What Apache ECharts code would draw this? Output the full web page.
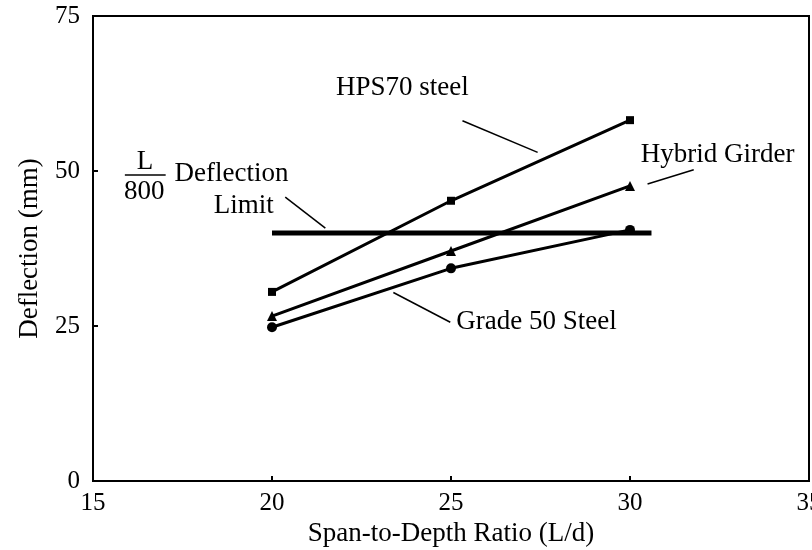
<!DOCTYPE html>
<html>
<head>
<meta charset="utf-8">
<script src="https://cdn.jsdelivr.net/npm/echarts@6/dist/echarts.min.js"></script>
<style>html,body{margin:0;padding:0;background:#fff}#c{width:812px;height:550px}</style>
</head>
<body>
<div id="c"></div>
<script>
const ratios = [20, 25, 30];
const hps70 = [30.5, 45.2, 58.2];
const hybrid = [26.6, 37.1, 47.6];
const grade50 = [24.8, 34.3, 40.5];
const limitValue = 40;
const limitRange = [20, 30.6];
const xTicks = [15, 20, 25, 30, 35];
const yTicks = [0, 25, 50, 75];

// annotation texts and anchors (data coordinates)
const noteTexts = ['HPS70 steel', 'Hybrid Girder', 'Grade 50 Steel', 'Deflection', 'Limit', 'L', '800'];
const noteAnchors = [[23.64, 63.4], [32.45, 52.6], [27.39, 25.7], [18.87, 49.6], [19.21, 44.4], [16.45, 51.4], [16.43, 46.6]];
const leaderLines = [
  [[25.32, 58.1], [27.42, 53.0]],
  [[30.49, 47.9], [31.78, 50.2]],
  [[23.39, 30.4], [24.98, 25.6]],
  [[20.37, 45.8], [21.49, 40.8]],
  [[15.89, 49.35], [17.03, 49.35]]
];

const font = 'Liberation Serif';
const chart = echarts.init(document.getElementById('c'));
const pair = (xs, ys) => xs.map((x, i) => [x, ys[i]]);
const lineStyle = { color: '#000', width: 3 };

chart.setOption({
  animation: false,
  backgroundColor: '#fff',
  grid: { left: 93, top: 16, right: 3, bottom: 69, outerBoundsMode: 'none', containLabel: false, show: true, borderColor: '#000', borderWidth: 2, backgroundColor: 'transparent' },
  xAxis: {
    type: 'value', min: xTicks[0], max: xTicks[xTicks.length - 1], interval: 5,
    name: 'Span-to-Depth Ratio (L/d)', nameLocation: 'middle', nameGap: 38,
    nameTextStyle: { fontFamily: font, fontSize: 27, color: '#000' },
    axisLine: { show: true, lineStyle: { color: '#000', width: 2 } },
    axisTick: { show: true, inside: true, length: 5, lineStyle: { color: '#000', width: 2 } },
    axisLabel: { fontFamily: font, fontSize: 25, color: '#000', margin: 10, showMaxLabel: true, hideOverlap: false },
    splitLine: { show: false }
  },
  yAxis: {
    type: 'value', min: yTicks[0], max: yTicks[yTicks.length - 1], interval: 25,
    name: 'Deflection (mm)', nameLocation: 'middle', nameGap: 50, nameRotate: 90,
    nameTextStyle: { fontFamily: font, fontSize: 27, color: '#000' },
    axisLine: { show: true, lineStyle: { color: '#000', width: 2 } },
    axisTick: { show: true, inside: true, length: 5, lineStyle: { color: '#000', width: 2 } },
    axisLabel: { fontFamily: font, fontSize: 25, color: '#000', margin: 13 },
    splitLine: { show: false }
  },
  series: [
    {
      name: 'Limit', type: 'line', data: limitRange.map(x => [x, limitValue]),
      symbol: 'none', lineStyle: { color: '#000', width: 5 }, z: 1
    },
    {
      name: 'HPS70 steel', type: 'line', data: pair(ratios, hps70),
      symbol: 'rect', symbolSize: 8, itemStyle: { color: '#000' }, lineStyle
    },
    {
      name: 'Hybrid Girder', type: 'line', data: pair(ratios, hybrid),
      symbol: 'triangle', symbolSize: 10, itemStyle: { color: '#000' }, lineStyle
    },
    {
      name: 'Grade 50 Steel', type: 'line', data: pair(ratios, grade50),
      symbol: 'circle', symbolSize: 10, itemStyle: { color: '#000' }, lineStyle
    },
    {
      name: 'notes', type: 'scatter', data: [], silent: true,
      markLine: {
        silent: true, symbol: 'none', animation: false,
        lineStyle: { color: '#000', width: 1.5, type: 'solid' },
        label: { show: false },
        data: leaderLines.map(l => [{ coord: l[0] }, { coord: l[1] }])
      },
      markPoint: {
        silent: true, symbol: 'circle', symbolSize: 0, animation: false,
        label: { show: true, position: 'inside', fontFamily: font, fontSize: 27, color: '#000' },
        data: noteTexts.map((t, i) => ({ coord: noteAnchors[i], value: t, label: { formatter: t } }))
      }
    }
  ]
});
</script>
</body>
</html>
